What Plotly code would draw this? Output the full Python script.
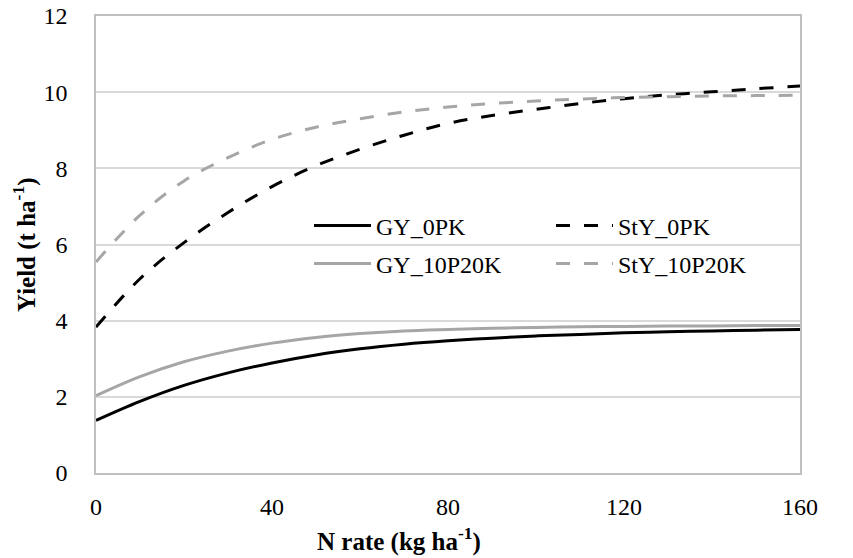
import plotly.graph_objects as go

n_rate = [0, 10, 20, 30, 40, 50, 60, 70, 80, 90, 100, 110, 120, 130, 140, 150, 160]
gy_0pk = [1.38, 1.88, 2.30, 2.63, 2.89, 3.10, 3.26, 3.38, 3.47, 3.54, 3.60, 3.64, 3.68, 3.71, 3.73, 3.75, 3.77]
gy_10p20k = [2.03, 2.53, 2.92, 3.20, 3.41, 3.56, 3.66, 3.73, 3.77, 3.80, 3.82, 3.84, 3.85, 3.86, 3.86, 3.87, 3.87]
sty_0pk = [3.83, 5.10, 6.05, 6.84, 7.52, 8.07, 8.50, 8.87, 9.18, 9.39, 9.55, 9.70, 9.83, 9.93, 10.01, 10.09, 10.16]
sty_10p20k = [5.54, 6.77, 7.67, 8.28, 8.76, 9.08, 9.30, 9.48, 9.61, 9.70, 9.77, 9.82, 9.86, 9.88, 9.90, 9.91, 9.92]

x_ticks = [0, 40, 80, 120, 160]
y_ticks = [0, 2, 4, 6, 8, 10, 12]

FONT = "Liberation Serif"
BLACK = "#000000"
GREY = "#A6A6A6"
DASH = "14px,14px"

fig = go.Figure()
fig.add_trace(go.Scatter(x=n_rate, y=gy_0pk, name="GY_0PK", mode="lines",
                         line=dict(color=BLACK, width=3, shape="spline"), legend="legend"))
fig.add_trace(go.Scatter(x=n_rate, y=sty_0pk, name="StY_0PK", mode="lines",
                         line=dict(color=BLACK, width=3, dash=DASH, shape="spline"), legend="legend2"))
fig.add_trace(go.Scatter(x=n_rate, y=gy_10p20k, name="GY_10P20K", mode="lines",
                         line=dict(color=GREY, width=3, shape="spline"), legend="legend3"))
fig.add_trace(go.Scatter(x=n_rate, y=sty_10p20k, name="StY_10P20K", mode="lines",
                         line=dict(color=GREY, width=3, dash=DASH, shape="spline"), legend="legend4"))

L, R, T, B = 96, 53, 16, 85
W, H = 853, 558
pw, ph = W - L - R, H - T - B

def px_x(p):
    return (p - L) / pw

def px_y(p):
    return (H - B - p) / ph

leg_common = dict(font=dict(family=FONT, size=24, color="#000"), bgcolor="rgba(0,0,0,0)",
                  xanchor="left", yanchor="middle", itemwidth=57, borderwidth=0)
fig.update_layout(
    showlegend=True,
    legend=dict(x=px_x(309), y=px_y(226), **leg_common),
    legend2=dict(x=px_x(551), y=px_y(226), **leg_common),
    legend3=dict(x=px_x(309), y=px_y(264), **leg_common),
    legend4=dict(x=px_x(551), y=px_y(264), **leg_common),
)

axis_line = "#BFBFBF"
fig.update_layout(
    width=W, height=H,
    margin=dict(l=L, r=R, t=T, b=B, autoexpand=False),
    paper_bgcolor="white", plot_bgcolor="white",
    font=dict(family=FONT, size=24, color="#000"),
    xaxis=dict(range=[0, 160], tickvals=x_ticks, showgrid=False, zeroline=False,
               showline=True, linecolor=axis_line, linewidth=1.5, mirror=True, automargin=False,
               ticks="", ticklabelstandoff=11, tickfont=dict(family=FONT, size=24)),
    yaxis=dict(range=[0, 12], tickvals=y_ticks, showgrid=True, gridcolor="#D9D9D9", gridwidth=1.5,
               zeroline=False, showline=True, linecolor=axis_line, linewidth=1.5, mirror=True,
               automargin=False,
               ticks="", ticklabelstandoff=22, tickfont=dict(family=FONT, size=24)),
    annotations=[
        dict(text="<b>N rate (kg ha<sup>-1</sup>)</b>", xref="paper", yref="paper",
             x=px_x(399), y=px_y(539), xanchor="center", yanchor="middle", showarrow=False,
             font=dict(family=FONT, size=25, color="#000")),
        dict(text="<b>Yield (t ha<sup>-1</sup>)</b>", xref="paper", yref="paper",
             x=px_x(24), y=px_y(245), xanchor="center", yanchor="middle", showarrow=False,
             textangle=-90, font=dict(family=FONT, size=25, color="#000")),
    ],
)

fig.write_html("out.html", config={"displayModeBar": False},
               post_script="document.body.style.margin='0';document.body.style.overflow='hidden';")
